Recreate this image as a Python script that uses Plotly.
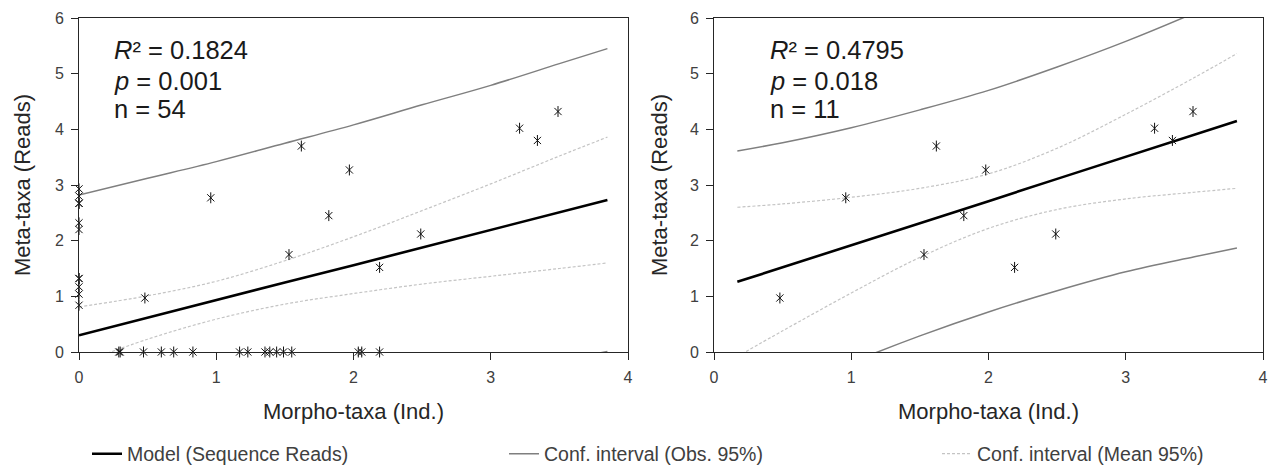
import plotly.graph_objects as go

# ---------------- data ----------------
# Left panel: all samples (n = 54)
left_x = [0.48, 0.96, 1.53, 1.62, 1.82, 1.97, 2.19, 2.49, 3.21, 3.34, 3.49,
          0, 0, 0, 0, 0, 0, 0, 0, 0, 0, 0,
          0.29, 0.30, 0.47, 0.60, 0.69, 0.83, 1.17, 1.23, 1.355, 1.39, 1.44,
          1.49, 1.55, 2.035, 2.06, 2.19]
left_y = [0.97, 2.77, 1.75, 3.70, 2.45, 3.27, 1.52, 2.12, 4.02, 3.80, 4.32,
          2.93, 2.80, 2.67, 2.67, 2.32, 2.20, 1.32, 1.32, 1.17, 1.04, 0.84,
          0, 0, 0, 0, 0, 0, 0, 0, 0, 0, 0,
          0, 0, 0, 0, 0]

# Left panel model and confidence bands, read at these x positions
left_grid = [0, 0.5, 1, 1.5, 2, 2.5, 3, 3.5, 3.85]
left_model = [0.30, 0.62, 0.93, 1.25, 1.56, 1.88, 2.19, 2.51, 2.73]
left_mean_up = [0.81, 1.01, 1.27, 1.64, 2.07, 2.54, 3.02, 3.52, 3.86]
left_mean_lo = [-0.21, 0.23, 0.59, 0.86, 1.05, 1.22, 1.36, 1.50, 1.60]
left_obs_up = [2.82, 3.12, 3.42, 3.75, 4.08, 4.44, 4.79, 5.18, 5.45]
left_obs_lo = [-2.22, -1.88, -1.56, -1.25, -0.96, -0.68, -0.41, -0.16, 0.01]

# Right panel: non-zero samples (n = 11)
right_x = [0.48, 0.96, 1.53, 1.62, 1.82, 1.98, 2.19, 2.49, 3.21, 3.34, 3.49]
right_y = [0.97, 2.77, 1.75, 3.70, 2.45, 3.27, 1.52, 2.12, 4.02, 3.80, 4.32]

right_grid = [0.17, 0.5, 1, 1.5, 2, 2.5, 3, 3.5, 3.81]
right_model = [1.26, 1.52, 1.92, 2.32, 2.71, 3.11, 3.51, 3.90, 4.15]
right_mean_up = [2.60, 2.66, 2.78, 2.94, 3.20, 3.66, 4.27, 4.93, 5.36]
right_mean_lo = [-0.08, 0.38, 1.06, 1.70, 2.22, 2.56, 2.75, 2.87, 2.94]
right_obs_up = [3.61, 3.76, 4.03, 4.35, 4.70, 5.12, 5.58, 6.09, 6.43]
right_obs_lo = [-1.09, -0.72, -0.19, 0.29, 0.72, 1.10, 1.44, 1.71, 1.87]

stats_left = ["<i>R</i>² = 0.1824", "<i>p</i> = 0.001", "n = 54"]
stats_right = ["<i>R</i>² = 0.4795", "<i>p</i> = 0.018", "n = 11"]

x_ticks = [0, 1, 2, 3, 4]
y_ticks = [0, 1, 2, 3, 4, 5, 6]

legend_names = ["Model (Sequence Reads)", "Conf. interval (Obs. 95%)",
                "Conf. interval (Mean 95%)"]

# ---------------- styles ----------------
FONT = "Liberation Sans, Arial, sans-serif"
MODEL_STYLE = dict(color="#000000", width=2.6)
OBS_STYLE = dict(color="#7f7f7f", width=1.5)
MEAN_STYLE = dict(color="#c4c4c4", width=1.2, dash="3px,2px")
MARK = "#111111"

fig = go.Figure()


def add_panel(xa, ya, px, py, grid, model, mup, mlo, oup, olo, legend):
    # confidence interval (observations)
    fig.add_trace(go.Scatter(x=grid, y=oup, mode="lines", line=dict(OBS_STYLE, shape="spline"),
                             name=legend_names[1], showlegend=legend, legend="legend2",
                             xaxis=xa, yaxis=ya, hoverinfo="skip"))
    fig.add_trace(go.Scatter(x=grid, y=olo, mode="lines", line=dict(OBS_STYLE, shape="spline"),
                             name=legend_names[1], showlegend=False,
                             xaxis=xa, yaxis=ya, hoverinfo="skip"))
    # confidence interval (mean)
    fig.add_trace(go.Scatter(x=grid, y=mup, mode="lines", line=dict(MEAN_STYLE, shape="spline"),
                             name=legend_names[2], showlegend=legend, legend="legend3",
                             xaxis=xa, yaxis=ya, hoverinfo="skip"))
    fig.add_trace(go.Scatter(x=grid, y=mlo, mode="lines", line=dict(MEAN_STYLE, shape="spline"),
                             name=legend_names[2], showlegend=False,
                             xaxis=xa, yaxis=ya, hoverinfo="skip"))
    # model
    fig.add_trace(go.Scatter(x=grid, y=model, mode="lines", line=MODEL_STYLE,
                             name=legend_names[0], showlegend=legend, legend="legend",
                             xaxis=xa, yaxis=ya, hoverinfo="skip"))
    # observations: asterisk markers (X plus vertical bar)
    fig.add_trace(go.Scatter(x=px, y=py, mode="markers", showlegend=False,
                             marker=dict(symbol="x-thin-open", size=7.2, color=MARK,
                                         line=dict(color=MARK, width=1.0)),
                             xaxis=xa, yaxis=ya, cliponaxis=False))
    fig.add_trace(go.Scatter(x=px, y=py, mode="markers", showlegend=False,
                             marker=dict(symbol="line-ns-open", size=7.8, color=MARK,
                                         line=dict(color=MARK, width=1.0)),
                             xaxis=xa, yaxis=ya, cliponaxis=False))


add_panel("x", "y", left_x, left_y, left_grid, left_model, left_mean_up,
          left_mean_lo, left_obs_up, left_obs_lo, True)
add_panel("x2", "y2", right_x, right_y, right_grid, right_model, right_mean_up,
          right_mean_lo, right_obs_up, right_obs_lo, False)

axis_common = dict(
    showline=True, linecolor="#262626", linewidth=1, mirror=True,
    ticks="outside", ticklen=7, tickcolor="#262626", tickwidth=1,
    showgrid=False, zeroline=False, automargin=False,
    tickfont=dict(family=FONT, size=16, color="#404040"),
    ticklabelstandoff=4,
)

TITLE_FONT = dict(family=FONT, size=22, color="#262626")
xa_common = dict(axis_common, range=[0, 4], tickvals=x_ticks,
                 title=dict(text="Morpho-taxa (Ind.)", standoff=18, font=TITLE_FONT))
ya_left = dict(axis_common, range=[0, 6], tickvals=y_ticks,
               title=dict(text="Meta-taxa (Reads)", standoff=18, font=TITLE_FONT))
ya_right = dict(axis_common, range=[0, 6], tickvals=y_ticks,
                title=dict(text="Meta-taxa (Reads)", standoff=16, font=TITLE_FONT))

W, H = 1274, 470
ML, MR, MT, MB = 79, 11, 18, 118
pw = W - ML - MR
left_dom = [0, (628 - ML) / pw]
right_dom = [(714 - ML) / pw, 1]

LEG_FONT = dict(family=FONT, size=19.5, color="#404040")
LEG_Y = (H - 454) / H


def leg(xpix):
    return dict(orientation="h", x=(xpix - ML) / pw, xanchor="left",
                yref="container", y=LEG_Y, yanchor="middle",
                font=LEG_FONT, bgcolor="rgba(0,0,0,0)")


fig.update_layout(
    width=W, height=H,
    margin=dict(l=ML, r=MR, t=MT, b=MB, autoexpand=False),
    paper_bgcolor="white", plot_bgcolor="white",
    font=dict(family=FONT, color="#262626"),
    xaxis=dict(xa_common, domain=left_dom, anchor="y"),
    yaxis=dict(ya_left, domain=[0, 1], anchor="x"),
    xaxis2=dict(xa_common, domain=right_dom, anchor="y2"),
    yaxis2=dict(ya_right, domain=[0, 1], anchor="x2"),
    showlegend=True,
    legend=leg(87),
    legend2=leg(504),
    legend3=leg(937),
)

line_y = [0.904, 0.811, 0.728]
for txt, yy in zip(stats_left, line_y):
    fig.add_annotation(text=txt, xref="x domain", yref="y domain", x=0.060, y=yy,
                       xanchor="left", yanchor="middle", showarrow=False,
                       font=dict(family=FONT, size=25.5, color="#1a1a1a"))
for txt, yy in zip(stats_right, line_y):
    fig.add_annotation(text=txt, xref="x2 domain", yref="y2 domain", x=0.099, y=yy,
                       xanchor="left", yanchor="middle", showarrow=False,
                       font=dict(family=FONT, size=25.5, color="#1a1a1a"))

# remove the default page margin so the figure sits at the window's top-left corner
fig.write_html("out.html", config={"displayModeBar": False},
               post_script="document.body.style.margin='0';")
